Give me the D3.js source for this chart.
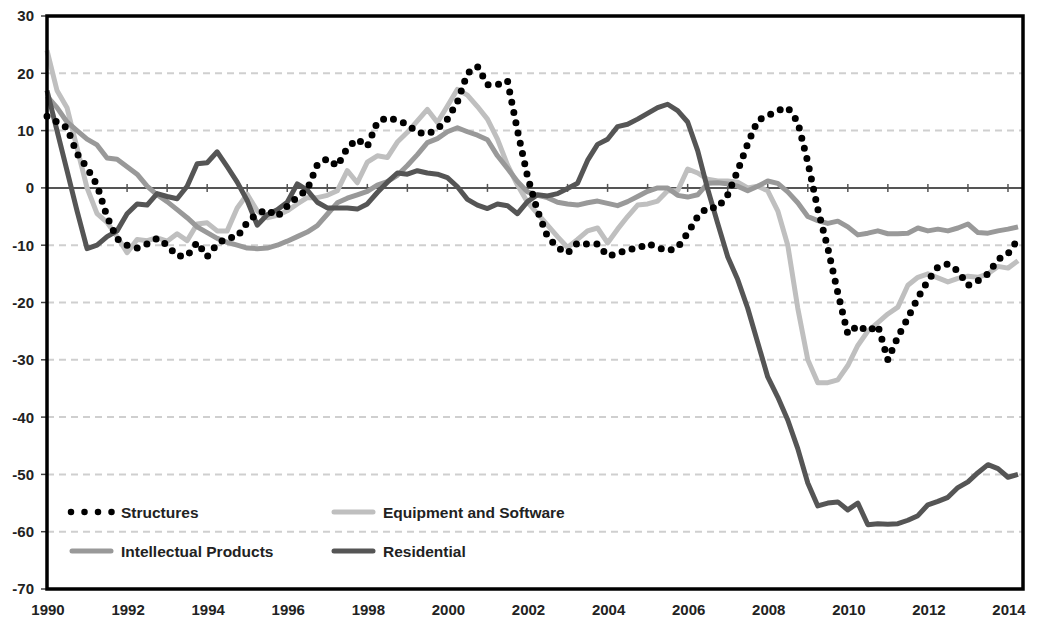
<!DOCTYPE html>
<html>
<head>
<meta charset="utf-8">
<script src="https://cdn.jsdelivr.net/npm/d3@7"></script>
<style>
  body { margin: 0; background: #fff; }
  text { font-family: "Liberation Sans", Arial, sans-serif; font-weight: bold; fill: #222; }
</style>
</head>
<body>
<div id="chart"></div>
<script>
// quarterly series, 1990Q1 .. 2014Q2
var startYear = 1990;
var yTicks = [30, 20, 10, 0, -10, -20, -30, -40, -50, -60, -70];
var xLabels = [1990, 1992, 1994, 1996, 1998, 2000, 2002, 2004, 2006, 2008, 2010, 2012, 2014];

var structures = [12.5, 11.5, 10.5, 6, 3.5, 0.5, -5, -8.9, -10, -10.5,
  -9.8, -8.8, -10, -11.9, -11.9, -9.5, -12, -9.8, -8.7, -8.6,
  -6, -4.5, -3.8, -5, -3.2, -1.6, -0.3, 4, 5.1, 3.8,
  7, 8.5, 7.2, 11.5, 12.3, 11.8, 11.1, 9.7, 9.4, 10.3,
  12, 15, 20, 21.2, 18, 18, 18.7, 10, 2, -4,
  -8.5, -10.4, -11.4, -9.6, -9.8, -9.8, -11.9, -11.5, -10.7, -10.6,
  -9.7, -10.4, -11, -10.4, -7.9, -5, -3.4, -3.5, -1.2, 3,
  7.7, 11.8, 12.6, 13.5, 14, 11.5, 4.5, -3.7, -10.5, -18.3,
  -25.5, -24, -25, -24, -30, -26, -22.7, -19.2, -16.2, -13.8,
  -13.3, -14.5, -17, -16.2, -15, -12.5, -11.5, -9];

var equipment = [24, 17, 14, 7, 0, -4.5, -6, -8.5, -11.3, -9,
  -9.2, -8.7, -9.3, -8, -9.2, -6.3, -6.1, -7.5, -7.5, -3.5,
  -1.1, -4, -5.2, -4.8, -4, -2.8, -1.7, -1.7, -1.3, -0.5,
  3, 0.9, 4.5, 5.6, 5.3, 8, 9.7, 11.7, 13.7, 11.4,
  14.3, 17.2, 16.2, 14.2, 12, 8.5, 4, 0.5, -2.5, -4.5,
  -6.5, -8.5, -10.4, -9, -7.5, -7, -9.6, -7.2, -5, -3,
  -2.8, -2.3, -0.5, -0.5, 3.3, 2.6, 1.5, 1.2, 1.2, 1,
  0, 0.3, -0.5, -4, -10, -21, -30, -34, -34, -33.5,
  -31, -27.5, -25, -23.5, -22, -20.8, -17, -15.6, -15, -15.7,
  -16.4, -15.8, -15.4, -15.6, -15, -13.7, -14, -12.7];

var intellectual = [16, 14, 11.5, 10, 8.5, 7.5, 5.2, 5, 3.7, 2.4,
  0.3, -1.2, -2.4, -3.8, -5.2, -6.8, -7.8, -8.8, -9.5, -10,
  -10.5, -10.6, -10.5, -10, -9.3, -8.5, -7.7, -6.6, -4.6, -2.6,
  -1.8, -1.2, -0.6, 0.5, 1.1, 2.2, 3.9, 5.8, 7.9, 8.6,
  9.8, 10.5, 9.8, 9.2, 8.4, 5.6, 3.4, 1.1, -0.7, -1.3,
  -1.7, -2.5, -2.8, -3, -2.6, -2.3, -2.7, -3.1, -2.4, -1.5,
  -0.6, 0, 0, -1.3, -1.6, -1.2, 0.8, 0.9, 0.7, 0.3,
  -0.5, 0.3, 1.2, 0.8, -0.7, -2.6, -5, -5.7, -6.2, -5.8,
  -6.8, -8.2, -7.9, -7.5, -8, -8, -7.9, -7, -7.5, -7.2,
  -7.5, -7, -6.3, -7.8, -7.9, -7.5, -7.2, -6.8];

var residential = [17, 10, 3, -4, -10.6, -10, -8.5, -7.5, -4.5, -2.8,
  -3, -1, -1.5, -1.9, 0.3, 4.2, 4.4, 6.3, 3.7, 1,
  -2.2, -6.5, -4.7, -3.8, -2.5, 0.7, -0.4, -2.5, -3.5, -3.5,
  -3.5, -3.7, -2.8, -0.8, 1, 2.6, 2.4, 3, 2.6, 2.4,
  1.8, 0.2, -2, -3, -3.6, -2.8, -3.1, -4.5, -2.4, -1.2,
  -1.4, -1, -0.1, 0.8, 4.8, 7.6, 8.5, 10.7, 11.1, 12,
  13, 14, 14.6, 13.5, 11.5, 6.5, -0.2, -6.2, -12, -16,
  -21, -27, -33, -36.5, -40.5, -45.5, -51.5, -55.5, -55, -54.8,
  -56.2, -55, -58.8, -58.6, -58.7, -58.6, -58, -57.2, -55.3, -54.7,
  -54, -52.3, -51.3, -49.7, -48.3, -49, -50.5, -50];

var width = 1038, height = 618;
var svg = d3.select("#chart").append("svg")
  .attr("width", width).attr("height", height);

var x = d3.scaleLinear().domain([1990, 2014.375]).range([47, 1023]);
var y = d3.scaleLinear().domain([-70, 30]).range([589, 16]);

// dashed grid lines
svg.selectAll(".grid")
  .data(yTicks.filter(function (d) { return d != 0 && d != 30 && d != -70; }))
  .enter().append("line")
  .attr("x1", x.range()[0]).attr("x2", x.range()[1])
  .attr("y1", function (d) { return y(d); }).attr("y2", function (d) { return y(d); })
  .style("stroke", "#cfcfcf").style("stroke-width", 2)
  .style("stroke-dasharray", "7,5");

// zero line with yearly ticks
svg.append("line")
  .attr("x1", x.range()[0]).attr("x2", x.range()[1])
  .attr("y1", y(0)).attr("y2", y(0))
  .style("stroke", "#555").style("stroke-width", 2);
svg.selectAll(".ztick").data(d3.range(1991, 2015)).enter().append("line")
  .attr("x1", function (d) { return x(d); }).attr("x2", function (d) { return x(d); })
  .attr("y1", y(0) - 4).attr("y2", y(0) + 4)
  .style("stroke", "#555").style("stroke-width", 1.5);

// y labels and ticks
svg.selectAll(".ytick").data(yTicks).enter().append("line")
  .attr("x1", 41).attr("x2", 47)
  .attr("y1", function (d) { return y(d); }).attr("y2", function (d) { return y(d); })
  .style("stroke", "#444").style("stroke-width", 1.5);
svg.selectAll(".ylab").data(yTicks).enter().append("text")
  .attr("x", 34).attr("y", function (d) { return y(d); })
  .attr("dy", "0.36em").attr("text-anchor", "end")
  .style("font-size", "15px")
  .text(function (d) { return d; });

// x labels
svg.selectAll(".xlab").data(xLabels).enter().append("text")
  .attr("x", function (d) { return x(d) + 1; }).attr("y", 615)
  .attr("text-anchor", "middle")
  .style("font-size", "15px")
  .text(function (d) { return d; });

function toPoints(vals) {
  return vals.map(function (v, i) { return [startYear + i / 4, v]; });
}
var line = d3.line()
  .x(function (d) { return x(d[0]); })
  .y(function (d) { return y(d[1]); });

var series = [
  { name: "Equipment and Software", vals: equipment, color: "#bfbfbf" },
  { name: "Intellectual Products", vals: intellectual, color: "#999999" },
  { name: "Residential", vals: residential, color: "#555555" }
];
series.forEach(function (s) {
  svg.append("path")
    .datum(toPoints(s.vals))
    .attr("d", line)
    .style("fill", "none").style("stroke", s.color)
    .style("stroke-width", 5).style("stroke-linejoin", "round");
});

svg.append("path")
  .datum(toPoints(structures))
  .attr("d", line)
  .style("fill", "none").style("stroke", "#000")
  .style("stroke-width", 7).style("stroke-linecap", "round")
  .style("stroke-dasharray", "0,10.5");

// frame
svg.append("rect")
  .attr("x", 47).attr("y", 16).attr("width", 976).attr("height", 573)
  .style("fill", "none").style("stroke", "#000").style("stroke-width", 3.5);

// legend
var legend = [
  { name: "Structures", col: 0, row: 0 },
  { name: "Equipment and Software", col: 1, row: 0, color: "#bfbfbf" },
  { name: "Intellectual Products", col: 0, row: 1, color: "#999999" },
  { name: "Residential", col: 1, row: 1, color: "#555555" }
];
legend.forEach(function (l) {
  var lx = l.col == 0 ? 70 : 332;
  var ly = l.row == 0 ? 512 : 551;
  if (l.color) {
    svg.append("line").attr("x1", lx + 2).attr("x2", lx + 41)
      .attr("y1", ly).attr("y2", ly)
      .style("stroke", l.color).style("stroke-width", 5).style("stroke-linecap", "round");
  } else {
    svg.append("line").attr("x1", lx + 1).attr("x2", lx + 42)
      .attr("y1", ly).attr("y2", ly)
      .style("stroke", "#000").style("stroke-width", 6.5).style("stroke-linecap", "round")
      .style("stroke-dasharray", "0,13.5");
  }
  svg.append("text").attr("x", lx + 51).attr("y", ly).attr("dy", "0.36em")
    .style("font-size", "15.5px")
    .text(l.name);
});
</script>
</body>
</html>
